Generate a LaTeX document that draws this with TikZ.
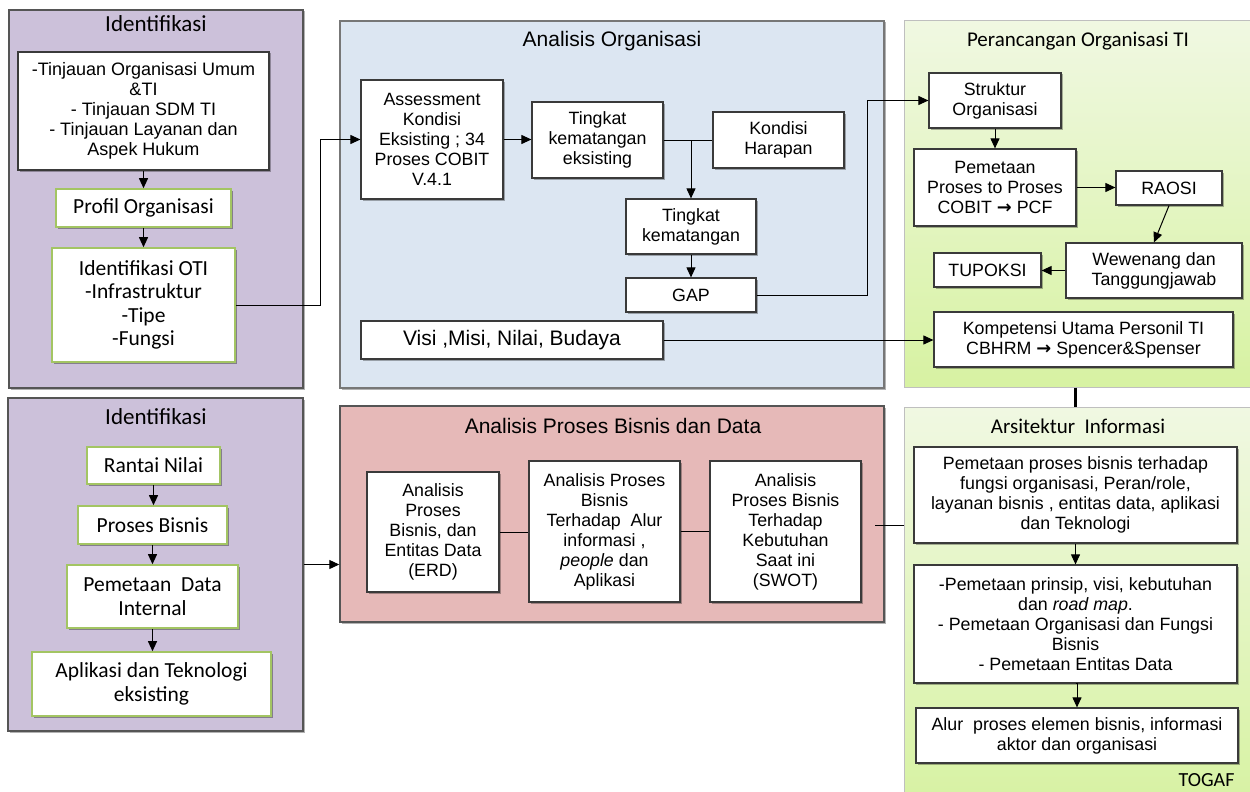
\documentclass[tikz,border=0pt]{standalone}
\usepackage{fontspec}
\setmainfont{Liberation Sans}
\newfontfamily\cfont{Carlito}
\newfontfamily\dfont{DejaVu Sans}
\usetikzlibrary{arrows.meta,shadows}
\definecolor{purp}{HTML}{CCC1DA}
\definecolor{bluep}{HTML}{DCE6F2}
\definecolor{pinkp}{HTML}{E6B9B8}
\definecolor{greentop}{HTML}{F0F8E2}
\definecolor{greenbot}{HTML}{D7F2A2}
\definecolor{gborder}{HTML}{A3C563}
\definecolor{boxline}{HTML}{3A3A3A}
\definecolor{panline}{HTML}{555555}
\definecolor{softline}{HTML}{BFBFBF}
\newcommand\atxt{\fontsize{17.8}{20}\selectfont}
\newcommand\ctxt{\cfont\fontsize{21.5}{23.5}\selectfont}
\newcommand\rarr{{\dfont\bfseries\char"2192}}
\tikzset{
  shad/.style={drop shadow={shadow xshift=1.5pt,shadow yshift=-1.5pt,opacity=0.3,fill=black}},
  panel/.style={draw=panline,line width=1.4pt,inner sep=0pt,shad},
  gpanel/.style={draw=softline,line width=1pt,inner sep=0pt,top color=greentop,bottom color=greenbot,
     drop shadow={shadow xshift=1pt,shadow yshift=-1pt,opacity=0.25,fill=black}},
  box/.style={draw=boxline,fill=white,line width=1.2pt,inner sep=0pt,align=center,font=\atxt,shad},
  gbox/.style={draw=gborder,fill=white,line width=1.6pt,inner sep=0pt,align=center,font=\ctxt,
     drop shadow={shadow xshift=1.5pt,shadow yshift=-2pt,opacity=0.35,fill=black}},
  ctitle/.style={anchor=base,font=\cfont\fontsize{23}{25}\selectfont},
  gtitle/.style={anchor=base,font=\cfont\fontsize{21}{23}\selectfont},
  atitle/.style={anchor=base,font=\fontsize{21}{23}\selectfont},
  arr/.style={-{Triangle[length=10pt,width=9pt]},line width=1pt,black},
  ln/.style={line width=1pt,black}
}
\begin{document}
\begin{tikzpicture}[x=1pt,y=-1pt]
\useasboundingbox (0,0) rectangle (1250,792);
\clip (0,0) rectangle (1250,792);
\fill[white] (0,0) rectangle (1250,792);

% ---------- panels ----------
\node[panel,fill=purp,minimum width=294pt,minimum height=378pt] (p1) at (156,199) {};
\node[panel,fill=bluep,draw=panline!80,minimum width=544pt,minimum height=367pt] (p2) at (612,204.5) {};
\node[gpanel,minimum width=358pt,minimum height=366pt] (p3) at (1083,204) {};
\node[panel,fill=purp,minimum width=295pt,minimum height=333pt] (p4) at (155.5,564.5) {};
\node[panel,fill=pinkp,minimum width=544pt,minimum height=216pt] (p5) at (612,514) {};
\node[gpanel,minimum width=358pt,minimum height=403pt] (p6) at (1083,608.5) {};

% ---------- titles ----------
\node[ctitle] (t1) at (156,32) {Identifikasi};
\node[atitle] (t2) at (612,47) {Analisis Organisasi};
\node[gtitle] (t3) at (1078,47) {Perancangan Organisasi TI};
\node[ctitle] (t4) at (156,424) {Identifikasi};
\node[atitle] (t5) at (613,433) {Analisis Proses Bisnis dan Data};
\node[gtitle] (t6) at (1078,433) {Arsitektur\ \ Informasi};
\node[anchor=base east,font=\cfont\fontsize{20}{22}\selectfont] (togaf) at (1238,786) {TOGAF};

% ---------- panel 1 ----------
\node[box,font=\fontsize{18}{20}\selectfont,minimum width=251pt,minimum height=118pt] (n1a) at (143.5,111)
  {-Tinjauan Organisasi Umum\\\&TI\\- Tinjauan SDM TI\\- Tinjauan Layanan dan\\Aspek Hukum};
\node[gbox,minimum width=175pt,minimum height=38pt] (n1b) at (143.5,208) {Profil Organisasi};
\node[gbox,minimum width=183pt,minimum height=114pt] (n1c) at (143.5,305)
  {Identifikasi OTI\\-Infrastruktur\\-Tipe\\-Fungsi};

% ---------- panel 2 ----------
\node[box,minimum width=142pt,minimum height=119pt] (n2a) at (432,139.5)
  {Assessment\\Kondisi\\Eksisting ; 34\\Proses COBIT\\V.4.1};
\node[box,minimum width=131pt,minimum height=76pt] (n2b) at (597.5,140)
  {Tingkat\\kematangan\\eksisting};
\node[box,minimum width=131pt,minimum height=56pt] (n2c) at (778.5,140) {Kondisi\\Harapan};
\node[box,minimum width=130pt,minimum height=55pt] (n2d) at (691,226.5) {Tingkat\\kematangan};
\node[box,minimum width=130pt,minimum height=34pt] (n2e) at (691,295) {GAP};
\node[box,font=\fontsize{21}{23}\selectfont,minimum width=302pt,minimum height=38pt] (n2f) at (512,340)
  {Visi ,Misi, Nilai, Budaya};

% ---------- panel 3 ----------
\node[box,minimum width=132pt,minimum height=55pt] (n3a) at (995,100.5) {Struktur\\Organisasi};
\node[box,minimum width=162pt,minimum height=77pt] (n3b) at (995,187.5)
  {Pemetaan\\Proses to Proses\\COBIT \rarr{} PCF};
\node[box,minimum width=106pt,minimum height=34pt] (n3c) at (1169,188) {RAOSI};
\node[box,minimum width=176pt,minimum height=55pt] (n3d) at (1154,270.5) {Wewenang dan\\Tanggungjawab};
\node[box,minimum width=107pt,minimum height=34pt] (n3e) at (987.5,270) {TUPOKSI};
\node[box,minimum width=299pt,minimum height=55pt] (n3g) at (1083.5,339.5)
  {Kompetensi Utama Personil TI\\CBHRM \rarr{} Spencer\&Spenser};

% ---------- panel 4 ----------
\node[gbox,minimum width=133pt,minimum height=37pt] (n4a) at (153.5,465.5) {Rantai Nilai};
\node[gbox,minimum width=149pt,minimum height=38pt] (n4b) at (152.5,525) {Proses Bisnis};
\node[gbox,minimum width=171pt,minimum height=63pt] (n4c) at (152.5,596.5) {Pemetaan\ \ Data\\Internal};
\node[gbox,minimum width=239pt,minimum height=64pt] (n4d) at (151.5,684) {Aplikasi dan Teknologi\\eksisting};

% ---------- panel 5 ----------
\node[box,minimum width=132pt,minimum height=120pt] (n5a) at (433,532)
  {Analisis\\Proses\\Bisnis, dan\\Entitas Data\\(ERD)};
\node[box,minimum width=151pt,minimum height=141pt] (n5b) at (604.5,531.5)
  {Analisis Proses\\Bisnis\\Terhadap\ \ Alur\\informasi ,\\\textit{people} dan\\Aplikasi};
\node[box,minimum width=151pt,minimum height=141pt] (n5c) at (785.5,531.5)
  {Analisis\\Proses Bisnis\\Terhadap\\Kebutuhan\\Saat ini\\(SWOT)};

% ---------- panel 6 ----------
\node[box,minimum width=323pt,minimum height=96pt] (n6a) at (1075.5,495)
  {Pemetaan proses bisnis terhadap\\fungsi organisasi, Peran/role,\\layanan bisnis , entitas data, aplikasi\\dan Teknologi};
\node[box,minimum width=323pt,minimum height=118pt] (n6b) at (1075.5,624)
  {-Pemetaan prinsip, visi, kebutuhan\\dan \textit{road map}.\\- Pemetaan Organisasi dan Fungsi\\Bisnis\\- Pemetaan Entitas Data};
\node[box,minimum width=322pt,minimum height=55pt] (n6c) at (1077,735.5)
  {Alur\ \ proses elemen bisnis, informasi\\aktor dan organisasi};

% ---------- helper coordinates ----------
\coordinate (e1) at (320,0);
\coordinate (e2) at (867,0);
\coordinate (s5) at (875,525);

% ---------- connectors ----------
\draw[arr] (n1a.south) -- (n1b.north);
\draw[arr] (n1b.south) -- (n1c.north);
\draw[arr] (n1c.east) -- (n1c.east -| e1) |- (n2a.west);

\draw[arr] (n2a.east) -- (n2a.east -| n2b.west);
\draw[ln] (n2b.east) -- (n2c.west);
\draw[arr] (n2d.north |- n2b.east) -- (n2d.north);
\draw[arr] (n2d.south) -- (n2e.north);
\draw[arr] (n2e.east) -- (n2e.east -| e2) |- (n3a.west);
\draw[arr] (n2f.east) -- (n2f.east -| n3g.west);

\draw[arr] (n3a.south) -- (n3b.north);
\draw[arr] (n3b.east) -- (n3b.east -| n3c.west);
\draw[arr] (n3c.south) -- (n3d.north);
\draw[arr] (n3d.west) -- (n3d.west -| n3e.east);

\draw[line width=3.5pt,black] (n6a.north |- p3.south) -- (n6a.north |- p6.north);

\draw[arr] (n4a.south) -- (n4a.south |- n4b.north);
\draw[arr] (n4b.south) -- (n4b.south |- n4c.north);
\draw[arr] (n4c.south) -- (n4c.south |- n4d.north);
\draw[arr] (p4.east) -- (p4.east -| p5.west);

\draw[ln] (n5a.east) -- (n5a.east -| n5b.west);
\draw[ln] (n5b.east) -- (n5c.west);
\draw[ln] (s5) -- (s5 -| p6.west);

\draw[arr] (n6a.south) -- (n6a.south |- n6b.north);
\draw[arr] (n6b.south) -- (n6b.south -| n6c.north) -- (n6c.north);
\end{tikzpicture}
\end{document}
